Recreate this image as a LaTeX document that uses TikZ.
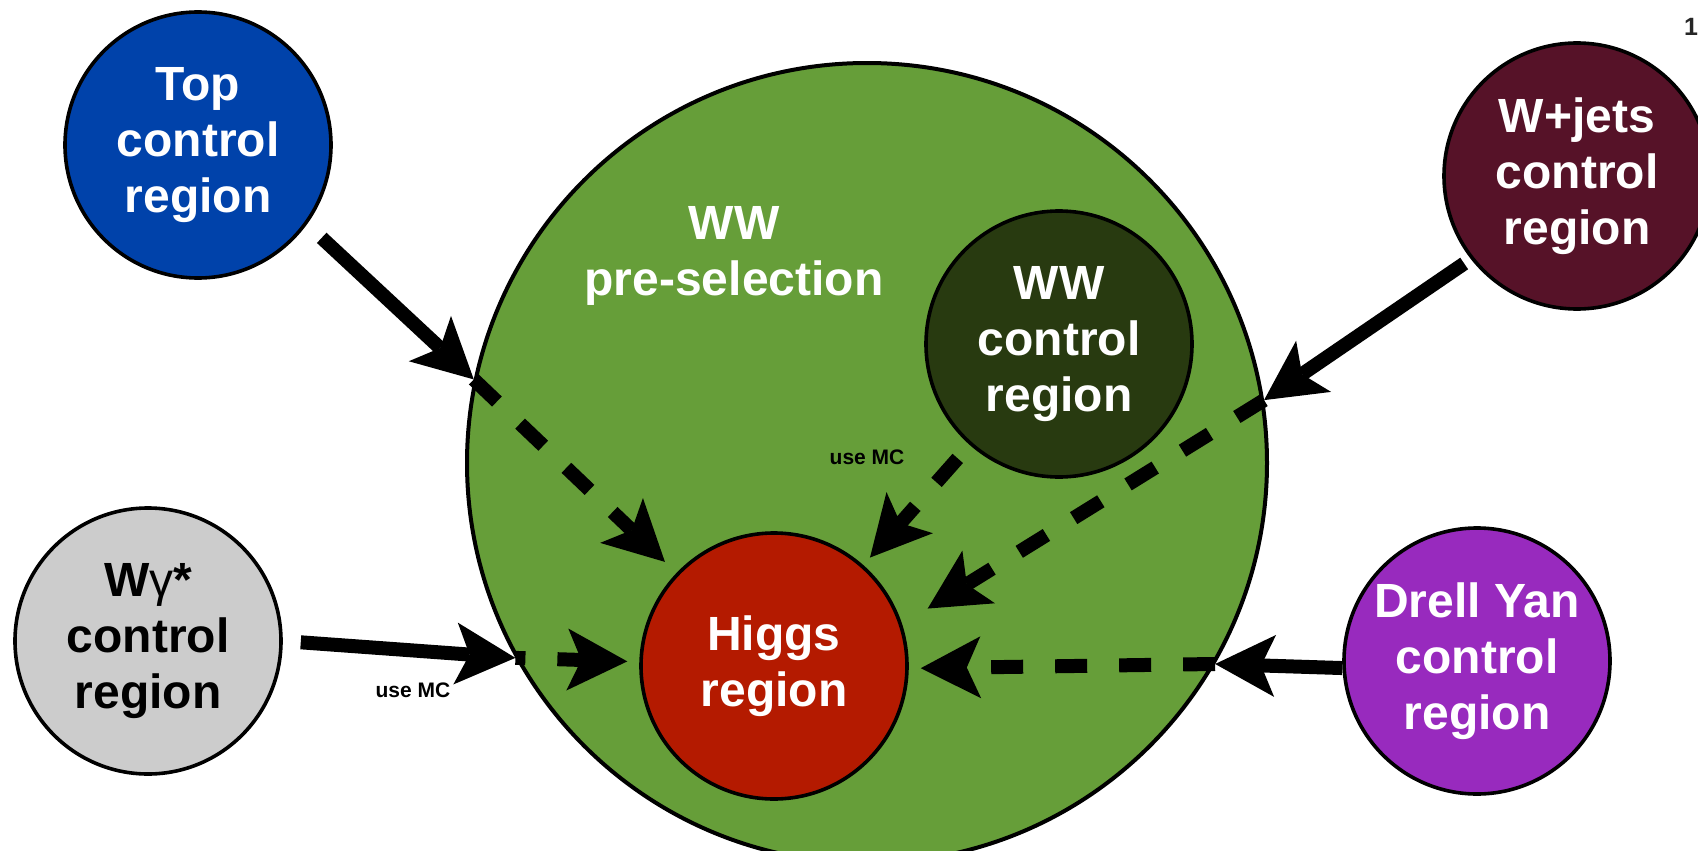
\documentclass[tikz,border=0pt]{standalone}
\usepackage{fontspec}
\setmainfont{Liberation Sans}
\usetikzlibrary{arrows.meta}
\definecolor{topblue}{RGB}{0,66,170}
\definecolor{wjetsred}{RGB}{86,18,40}
\definecolor{presel}{RGB}{102,158,57}
\definecolor{wwdark}{RGB}{40,58,16}
\definecolor{higgsred}{RGB}{180,26,0}
\definecolor{wggrey}{RGB}{204,204,204}
\definecolor{dypurple}{RGB}{152,42,190}
\begin{document}
\begin{tikzpicture}[x=0.5pt,y=-0.5pt,
  region/.style={circle, draw=black, line width=1.8pt, minimum size=133pt, inner sep=0pt,
    align=center, text=white, font=\bfseries\fontsize{24pt}{28pt}\selectfont},
  solidarrow/.style={line width=7pt, -{Stealth[length=30pt,width=31pt,inset=7pt,line width=0pt]}},
  dasharrow/.style={solidarrow, dash pattern=on 16pt off 16pt},
  smalllabel/.style={font=\bfseries\fontsize{10.5pt}{12pt}\selectfont, inner sep=0pt}
]
\useasboundingbox (0,0) rectangle (1698,851);
\clip (0,0) rectangle (1698,851);
% big pre-selection circle
\node[circle, draw=black, line width=2pt, fill=presel, minimum size=400pt, inner sep=0pt] (pre) at (867,463) {};
\node[align=center, text=white, font=\bfseries\fontsize{24pt}{28pt}\selectfont] (prelabel) at (734,256) {WW\\pre-selection};
% regions
\node[region, fill=topblue] (top) at (198,145) {Top\\control\\region};
\node[region, fill=wjetsred] (wjets) at (1577,176) {W+jets\\control\\region};
\node[region, fill=wwdark] (wwc) at (1059,344) {WW\\control\\region};
\node[region, fill=higgsred] (higgs) at (774,666) {Higgs\\region};
\node[region, fill=wggrey, text=black] (wg) at (148,641) {W{\mdseries γ}*\\control\\region};
\node[region, fill=dypurple] (dy) at (1477,661) {Drell Yan\\control\\region};
% labels
\node[smalllabel] (mc1) at (867,457) {use MC};
\node[smalllabel] (mc2) at (413,690) {use MC};
\node[font=\bfseries\fontsize{12.5pt}{14pt}\selectfont, text=black!85, inner sep=0pt] (pg) at (1691,27) {1};
% junction points on the pre-selection border
\coordinate (e1) at (pre.168.4);
\coordinate (e3) at (pre.9);
\coordinate (e4) at (pre.209);
\coordinate (e5) at (pre.-30.7);
% arrows
\draw[solidarrow, shorten <=10pt] (top.-36) -- (e1);
\draw[dasharrow, shorten >=8pt] (e1) -- (higgs);
\draw[dasharrow, shorten <=9pt, shorten >=5pt] (wwc) -- (higgs);
\draw[solidarrow, shorten <=4pt] (wjets.218) -- (e3);
\draw[dasharrow, shorten >=15pt] (e3) -- (higgs.18);
\draw[solidarrow, shorten <=9pt] (wg.0) -- (e4);
\draw[dasharrow, dash phase=11pt, shorten >=6pt] (e4) -- (higgs);
\draw[solidarrow] (dy.183) -- (e5);
\draw[dasharrow, shorten >=6pt] (e5) -- (higgs.-1);
\end{tikzpicture}
\end{document}
